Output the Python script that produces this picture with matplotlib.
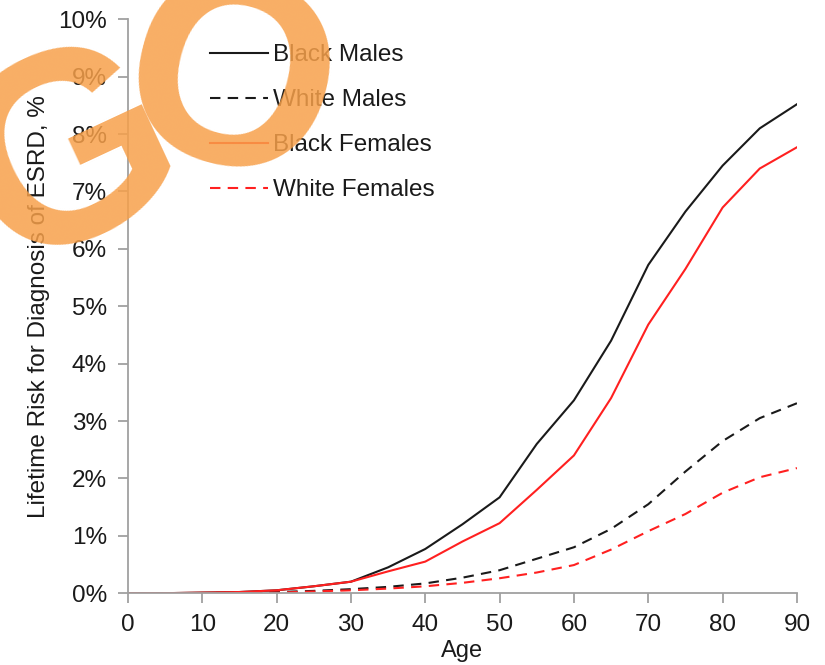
import matplotlib
matplotlib.use("Agg")
import matplotlib.pyplot as plt
from matplotlib.ticker import FuncFormatter

plt.rcParams['font.family'] = ['Liberation Sans', 'DejaVu Sans']

ages = [0, 5, 10, 15, 20, 25, 30, 35, 40, 45, 50, 55, 60, 65, 70, 75, 80, 85, 90]
black_males = [0.0, 0.0, 0.01, 0.02, 0.05, 0.12, 0.2, 0.45, 0.77, 1.2, 1.67, 2.6, 3.36, 4.4, 5.72, 6.65, 7.45, 8.1, 8.52]
white_males = [0.0, 0.0, 0.0, 0.01, 0.02, 0.04, 0.07, 0.11, 0.17, 0.27, 0.4, 0.6, 0.8, 1.12, 1.55, 2.12, 2.65, 3.05, 3.31]
black_females = [0.0, 0.0, 0.01, 0.02, 0.05, 0.12, 0.2, 0.38, 0.55, 0.9, 1.22, 1.8, 2.4, 3.4, 4.68, 5.65, 6.72, 7.4, 7.77]
white_females = [0.0, 0.0, 0.0, 0.01, 0.01, 0.03, 0.05, 0.08, 0.12, 0.18, 0.26, 0.36, 0.49, 0.76, 1.08, 1.38, 1.75, 2.02, 2.18]

x_ticks = [0, 10, 20, 30, 40, 50, 60, 70, 80, 90]
y_ticks = [0, 1, 2, 3, 4, 5, 6, 7, 8, 9, 10]

fig = plt.figure(figsize=(8.25, 6.65), dpi=100)
ax = fig.add_axes([0.155, 0.108, 0.811, 0.863])

dash = (0, (5, 3.5))
ax.plot(ages, black_males, color='#1a1a1a', lw=1.5, ls='-', label='Black Males')
ax.plot(ages, white_males, color='#1a1a1a', lw=1.5, ls=dash, label='White Males')
ax.plot(ages, black_females, color='#ff2020', lw=1.5, ls='-', label='Black Females')
ax.plot(ages, white_females, color='#ff2020', lw=1.5, ls=dash, label='White Females')

ax.set_xlim(0, 90)
ax.set_ylim(0, 10)
ax.set_xticks(x_ticks)
ax.set_yticks(y_ticks)
ax.yaxis.set_major_formatter(FuncFormatter(lambda v, p: f"{int(v)}%"))

for s in ['top', 'right']:
    ax.spines[s].set_visible(False)
for s in ['left', 'bottom']:
    ax.spines[s].set_color('#a0a0a0')
    ax.spines[s].set_linewidth(1.3)
ax.tick_params(axis='both', direction='out', length=7, width=1.3, color='#a0a0a0',
               labelsize=17.5, labelcolor='#1a1a1a', pad=8)

ax.set_xlabel('Age', fontsize=17, color='#1a1a1a', labelpad=3)
ax.set_ylabel('Lifetime Risk for Diagnosis of ESRD, %', fontsize=17.5, color='#1a1a1a', labelpad=6)

leg = ax.legend(loc='upper left', bbox_to_anchor=(0.09, 0.995), frameon=False,
                fontsize=17.5, handlelength=2.4, handletextpad=0.2, labelspacing=0.95)
for t in leg.get_texts():
    t.set_color('#1a1a1a')

# Watermark overlay
fig.text(0.088, 0.757, 'G', fontsize=195, fontweight='bold', color='#f7a04a', alpha=0.85,
         rotation=25, ha='center', va='center', family='Liberation Sans')
fig.text(0.276, 0.859, 'O', fontsize=195, fontweight='bold', color='#f7a04a', alpha=0.85,
         rotation=-15, ha='center', va='center', family='Liberation Sans')

fig.savefig('out.png', dpi=100)
